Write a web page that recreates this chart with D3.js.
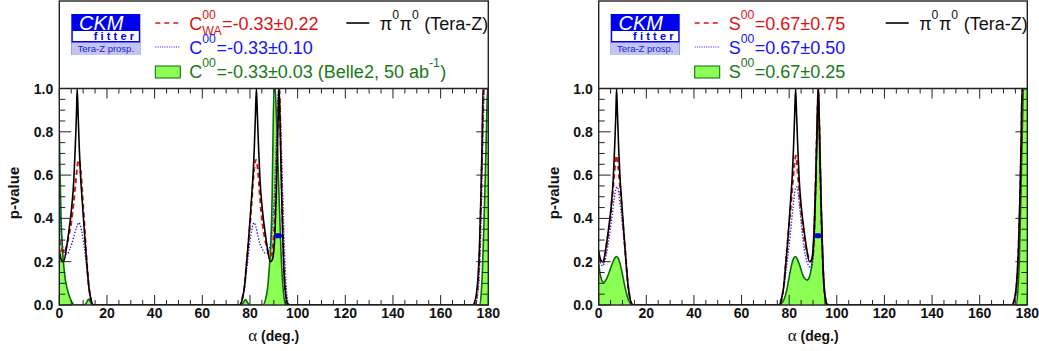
<!DOCTYPE html>
<html>
<head>
<meta charset="utf-8">
<script src="https://cdn.jsdelivr.net/npm/d3@7"></script>
<style>
  body { margin: 0; background: #fff; }
  svg { display: block; }
  text { font-family: "Liberation Sans", Arial, Helvetica, sans-serif; white-space: pre; }
</style>
</head>
<body>
<svg id="chart" width="1039" height="351"></svg>
<script>
// ---- axis ticks ----
const alphaTicks = [0, 20, 40, 60, 80, 100, 120, 140, 160, 180];
const pTicks = [0, 0.2, 0.4, 0.6, 0.8, 1.0];

// ---- p-value scans, [alpha (deg), p-value] ----
// pi0 pi0 at Tera-Z (same in both panels)
const piPiTeraZ = [[0,0.25],[0.8,0.21],[1.8,0.2],[3.1,0.27],[4,0.34],[5,0.43],[6.1,0.58],[6.7,0.73],[7.2,0.88],[7.5,1.0],[7.9,0.88],[8.4,0.72],[8.9,0.6],[9.5,0.5],[10.2,0.39],[11,0.27],[11.7,0.17],[12.4,0.085],[13,0.04],[13.6,0.012],[14.4,0],[75.6,0],[76.4,0.012],[77,0.04],[77.7,0.085],[78.4,0.17],[79.2,0.27],[80,0.39],[80.7,0.5],[81.3,0.6],[81.8,0.72],[82.3,0.88],[82.7,1.0],[83.1,0.88],[83.6,0.73],[84.2,0.58],[85.3,0.43],[86.3,0.34],[87.2,0.27],[88.5,0.2],[89.4,0.21],[90,0.25],[90.5,0.33],[91,0.5],[91.5,0.72],[91.9,0.9],[92.2,1.0],[92.6,0.85],[93.1,0.6],[93.6,0.38],[94.1,0.2],[94.6,0.09],[95.2,0.03],[95.8,0.005],[96.5,0],[173.5,0],[174.3,0.015],[175,0.05],[175.7,0.13],[176.3,0.27],[176.9,0.5],[177.4,0.75],[177.8,1.0],[180,1.0]];

// C00 panel
const cWA022 = [[0,0.3],[1,0.26],[2,0.24],[3,0.27],[4,0.32],[5,0.38],[6,0.47],[7,0.58],[7.6,0.645],[8.2,0.67],[8.8,0.64],[9.4,0.56],[10,0.46],[10.6,0.36],[11.2,0.25],[11.8,0.16],[12.4,0.085],[13,0.04],[13.6,0.012],[14.4,0],[75.6,0],[76.4,0.012],[77,0.04],[77.7,0.085],[78.4,0.17],[79.2,0.27],[80,0.37],[80.7,0.47],[81.3,0.57],[81.9,0.645],[82.5,0.67],[83.1,0.645],[83.7,0.57],[84.4,0.47],[85.2,0.38],[86.2,0.31],[87.2,0.26],[88.2,0.225],[89,0.23],[89.7,0.28],[90.3,0.38],[90.9,0.56],[91.5,0.78],[92,0.95],[92.3,1.0],[92.7,0.85],[93.2,0.6],[93.7,0.38],[94.2,0.2],[94.7,0.09],[95.3,0.03],[95.9,0.005],[96.6,0],[174,0],[174.8,0.02],[175.5,0.07],[176.2,0.2],[176.8,0.42],[177.4,0.7],[177.9,0.95],[178.2,1.0],[180,1.0]];
const c010 = [[0,0.48],[0.5,0.38],[1,0.31],[1.7,0.255],[2.5,0.235],[3.3,0.235],[4.3,0.255],[5.3,0.285],[6.3,0.325],[7.3,0.36],[8.2,0.38],[8.9,0.365],[9.6,0.33],[10.3,0.28],[11,0.22],[11.7,0.15],[12.4,0.085],[13,0.04],[13.6,0.012],[14.4,0],[75.6,0],[76.4,0.012],[77,0.04],[77.8,0.09],[78.6,0.16],[79.4,0.24],[80.2,0.31],[81,0.36],[81.7,0.38],[82.5,0.36],[83.4,0.315],[84.3,0.28],[85.3,0.255],[86.3,0.24],[87.3,0.24],[88.1,0.26],[88.8,0.3],[89.5,0.38],[90.2,0.5],[90.8,0.68],[91.4,0.88],[91.9,1.0],[92.5,0.95],[93.2,0.72],[93.8,0.5],[94.3,0.32],[94.8,0.17],[95.3,0.07],[95.8,0.02],[96.5,0],[174.5,0],[175.3,0.03],[176,0.1],[176.7,0.28],[177.3,0.55],[177.9,0.85],[178.4,1.0],[180,1.0]];
const c003Belle2 = [[0,0.8],[0.3,0.62],[0.7,0.42],[1.2,0.28],[1.8,0.19],[2.5,0.12],[3.2,0.08],[4.2,0.04],[5.2,0.016],[6.5,0],[10.5,0],[11.5,0.012],[12.3,0.028],[13.2,0.012],[14.3,0],[76.3,0],[77.3,0.012],[78.1,0.025],[79,0.01],[80,0],[85.5,0],[86.5,0.025],[87.3,0.07],[88.1,0.17],[88.8,0.3],[89.3,0.5],[89.7,0.8],[90.1,1.0],[90.6,1.0],[91,0.9],[91.6,0.72],[92.2,0.5],[93,0.25],[93.8,0.09],[94.6,0.015],[95.3,0],[176.3,0],[177,0.05],[177.6,0.18],[178.2,0.38],[178.8,0.62],[179.3,0.85],[179.7,1.0],[180,1.0]];

// S00 panel
const s075 = [[0,0.22],[0.9,0.2],[1.7,0.19],[2.5,0.22],[3.5,0.29],[4.5,0.37],[5.5,0.47],[6.5,0.6],[7.1,0.67],[7.6,0.69],[8.2,0.64],[8.9,0.55],[9.6,0.46],[10.3,0.36],[11,0.27],[11.7,0.17],[12.4,0.085],[13,0.04],[13.6,0.012],[14.4,0],[75.6,0],[76.4,0.012],[77,0.04],[77.7,0.085],[78.4,0.17],[79.2,0.27],[80,0.37],[80.8,0.47],[81.6,0.58],[82.3,0.66],[82.8,0.69],[83.3,0.65],[84,0.55],[84.7,0.46],[85.5,0.38],[86.4,0.3],[87.3,0.25],[88.3,0.215],[89.2,0.2],[89.8,0.22],[90.4,0.3],[90.9,0.48],[91.4,0.7],[91.9,0.9],[92.2,1.0],[92.6,0.85],[93.1,0.6],[93.6,0.38],[94.1,0.2],[94.6,0.09],[95.2,0.03],[95.8,0.005],[96.5,0],[173.6,0],[174.4,0.015],[175.1,0.05],[175.8,0.13],[176.4,0.27],[177,0.5],[177.5,0.75],[177.9,1.0],[180,1.0]];
const s050 = [[0,0.21],[0.9,0.19],[1.7,0.18],[2.5,0.2],[3.5,0.25],[4.5,0.32],[5.5,0.4],[6.5,0.49],[7.3,0.54],[7.9,0.545],[8.5,0.51],[9.2,0.45],[10,0.37],[10.7,0.29],[11.4,0.2],[12,0.12],[12.5,0.075],[13.1,0.035],[13.7,0.01],[14.5,0],[75.6,0],[76.5,0.012],[77.1,0.04],[77.8,0.085],[78.6,0.15],[79.5,0.23],[80.5,0.33],[81.5,0.44],[82.3,0.52],[83,0.545],[83.7,0.52],[84.5,0.44],[85.4,0.34],[86.3,0.26],[87.3,0.205],[88.3,0.18],[89.2,0.17],[89.9,0.2],[90.5,0.3],[91,0.47],[91.5,0.7],[92,0.93],[92.3,1.0],[92.7,0.85],[93.2,0.6],[93.7,0.38],[94.2,0.2],[94.7,0.09],[95.3,0.03],[95.9,0.005],[96.6,0],[173.7,0],[174.5,0.015],[175.2,0.05],[175.9,0.13],[176.5,0.27],[177.1,0.5],[177.6,0.75],[178,1.0],[180,1.0]];
const s025 = [[0,0.19],[0.5,0.15],[1,0.125],[2,0.105],[3,0.115],[4,0.14],[5,0.17],[6,0.2],[7,0.22],[7.6,0.224],[8.3,0.214],[9,0.19],[10,0.14],[11,0.085],[12,0.04],[13,0.012],[14,0.002],[14.6,0],[75.8,0],[77,0.01],[78,0.03],[79,0.07],[80,0.13],[81,0.185],[82,0.218],[82.7,0.224],[83.5,0.21],[84.5,0.18],[85.5,0.145],[86.5,0.122],[87.5,0.115],[88.5,0.13],[89.3,0.17],[90,0.25],[90.6,0.4],[91.2,0.6],[91.7,0.82],[92.1,0.97],[92.3,1.0],[92.7,0.82],[93.2,0.58],[93.7,0.36],[94.2,0.19],[94.7,0.08],[95.2,0.025],[95.8,0.004],[96.4,0],[175.3,0],[176,0.06],[176.7,0.22],[177.4,0.55],[178,0.85],[178.4,1.0],[180,1.0]];

// alpha measurement marker: [alpha low, alpha high, p]
const alphaPointC = [90.3, 93.5, 0.32];
const alphaPointS = [90.6, 93.5, 0.32];

// ---- styles ----
const RED = "#d81414", BLUE = "#1414ff", GREEN_TXT = "#167a16";
const GREEN_FILL = "#8cff55", GREEN_LINE = "#0b6b0b";

const svg = d3.select("#chart");
const FRAME_TOP = 1, PLOT_TOP = 88.5, PLOT_BOTTOM = 305;

function richText(g, x, y, parts, color, size) {
  let cx = x;
  const small = size * 0.68;
  parts.forEach(p => {
    if (p.t !== undefined) {
      const t = g.append("text").attr("x", cx).attr("y", y)
        .attr("font-size", size).attr("fill", color).text(p.t);
      cx += t.node().getComputedTextLength();
    } else {
      let w = 0;
      if (p.sup) {
        const t = g.append("text").attr("x", cx).attr("y", y - size * 0.6)
          .attr("font-size", small).attr("fill", color).text(p.sup);
        w = Math.max(w, t.node().getComputedTextLength());
      }
      if (p.sub) {
        const t = g.append("text").attr("x", cx).attr("y", y + size * 0.28)
          .attr("font-size", small).attr("fill", color).text(p.sub);
        w = Math.max(w, t.node().getComputedTextLength());
      }
      cx += w + 0.5;
    }
  });
  return cx;
}

function drawPanel(cfg) {
  const x = d3.scaleLinear().domain([0, 180]).range([cfg.left, cfg.right]);
  const y = d3.scaleLinear().domain([0, 1]).range([PLOT_BOTTOM, PLOT_TOP]);
  const g = svg.append("g");

  const clipId = "clip-" + cfg.id;
  svg.append("clipPath").attr("id", clipId).append("rect")
    .attr("x", cfg.left).attr("y", PLOT_TOP)
    .attr("width", cfg.right - cfg.left).attr("height", PLOT_BOTTOM - PLOT_TOP);

  const plot = g.append("g").attr("clip-path", `url(#${clipId})`);
  const line = d3.line().x(d => x(d[0])).y(d => y(d[1])).curve(d3.curveMonotoneX);
  const area = d3.area().x(d => x(d[0])).y0(y(0)).y1(d => y(d[1])).curve(d3.curveMonotoneX);

  // prospective measurement band
  plot.append("path").datum(cfg.green).attr("d", area).attr("fill", GREEN_FILL);
  plot.append("path").datum(cfg.green).attr("d", line)
    .attr("fill", "none").attr("stroke", GREEN_LINE).attr("stroke-width", 1.6);
  // improved precision scan
  plot.append("path").datum(cfg.blue).attr("d", line)
    .attr("fill", "none").attr("stroke", BLUE).attr("stroke-width", 1.3)
    .attr("stroke-dasharray", "1.3,1.7");
  // current world average scan
  plot.append("path").datum(cfg.red).attr("d", line)
    .attr("fill", "none").attr("stroke", RED).attr("stroke-width", 2)
    .attr("stroke-dasharray", "5,3.5");
  // pi0 pi0 Tera-Z
  plot.append("path").datum(piPiTeraZ).attr("d", line)
    .attr("fill", "none").attr("stroke", "#000").attr("stroke-width", 1.6);

  // alpha measurement marker
  const [lo, hi, pv] = cfg.point;
  g.append("line").attr("x1", x(lo)).attr("x2", x(hi)).attr("y1", y(pv)).attr("y2", y(pv))
    .attr("stroke", BLUE).attr("stroke-width", 3.5);
  g.append("rect").attr("x", x((lo + hi) / 2) - 2.5).attr("y", y(pv) - 2.5)
    .attr("width", 5).attr("height", 5).attr("fill", "#0000c8");

  // ticks
  const ax = g.append("g").attr("stroke", "#222").attr("stroke-width", 1);
  d3.range(0, 181, 5).forEach(a => {
    const len = a % 20 === 0 ? 10 : 5;
    ax.append("line").attr("x1", x(a)).attr("x2", x(a)).attr("y1", PLOT_BOTTOM).attr("y2", PLOT_BOTTOM - len);
    ax.append("line").attr("x1", x(a)).attr("x2", x(a)).attr("y1", PLOT_TOP).attr("y2", PLOT_TOP + len);
  });
  d3.range(0, 21).forEach(i => {
    const v = i * 0.05;
    const len = i % 4 === 0 ? 12 : 6;
    ax.append("line").attr("x1", cfg.left).attr("x2", cfg.left + len).attr("y1", y(v)).attr("y2", y(v));
    ax.append("line").attr("x1", cfg.right).attr("x2", cfg.right - len).attr("y1", y(v)).attr("y2", y(v));
  });

  // frames
  g.append("rect").attr("x", cfg.left).attr("y", FRAME_TOP)
    .attr("width", cfg.right - cfg.left).attr("height", PLOT_BOTTOM - FRAME_TOP)
    .attr("fill", "none").attr("stroke", "#222").attr("stroke-width", 1.4);
  g.append("line").attr("x1", cfg.left).attr("x2", cfg.right)
    .attr("y1", PLOT_TOP).attr("y2", PLOT_TOP).attr("stroke", "#222").attr("stroke-width", 1.4);

  // tick labels
  alphaTicks.forEach(a => {
    g.append("text").attr("x", x(a)).attr("y", 318).attr("text-anchor", "middle")
      .attr("font-size", 14).attr("font-weight", "bold").attr("fill", "#111").text(a);
  });
  pTicks.forEach(v => {
    g.append("text").attr("x", cfg.left - 6).attr("y", y(v) + 5).attr("text-anchor", "end")
      .attr("font-size", 14).attr("font-weight", "bold").attr("fill", "#111").text(v.toFixed(1));
  });

  // axis titles
  const xt = g.append("text").attr("x", cfg.left + 189).attr("y", 341).attr("fill", "#111");
  xt.append("tspan").attr("font-size", 17).attr("font-family", "'Liberation Serif', serif").text("α");
  xt.append("tspan").attr("font-size", 14).attr("font-weight", "bold").text(" (deg.)");
  g.append("text").attr("transform", `translate(${cfg.left - 40},193) rotate(-90)`)
    .attr("text-anchor", "middle").attr("font-size", 15).attr("font-weight", "bold")
    .attr("fill", "#111").text("p-value");

  // ---- legend ----
  const L = cfg.left;
  // CKMfitter logo
  const logo = g.append("g");
  logo.append("rect").attr("x", L + 12).attr("y", 14).attr("width", 69).attr("height", 41).attr("fill", "#0000f0");
  logo.append("rect").attr("x", L + 13.5).attr("y", 31).attr("width", 66).attr("height", 10).attr("fill", "#fff");
  logo.append("rect").attr("x", L + 12).attr("y", 42.5).attr("width", 69).attr("height", 12.5).attr("fill", "#c4c4f2");
  logo.append("text").attr("x", L + 42).attr("y", 29.5).attr("text-anchor", "middle")
    .attr("font-size", 20).attr("font-style", "italic").attr("fill", "#fff").text("CKM");
  logo.append("text").attr("x", L + 78).attr("y", 40).attr("text-anchor", "end")
    .attr("font-size", 11).attr("font-weight", "bold").attr("letter-spacing", "3.2")
    .attr("fill", "#0000f0").text("fitter");
  logo.append("text").attr("x", L + 46.5).attr("y", 51.5).attr("text-anchor", "middle")
    .attr("font-size", 9.5).attr("fill", "#1a1ae6").text("Tera-Z prosp.");

  // legend samples
  g.append("line").attr("x1", L + 96).attr("x2", L + 121).attr("y1", 23).attr("y2", 23)
    .attr("stroke", RED).attr("stroke-width", 1.6).attr("stroke-dasharray", "5,4");
  g.append("line").attr("x1", L + 96).attr("x2", L + 121).attr("y1", 47).attr("y2", 47)
    .attr("stroke", BLUE).attr("stroke-width", 1.2).attr("stroke-dasharray", "1,1.3");
  g.append("rect").attr("x", L + 96).attr("y", 66).attr("width", 25).attr("height", 12)
    .attr("fill", GREEN_FILL).attr("stroke", GREEN_LINE).attr("stroke-width", 1);
  g.append("line").attr("x1", L + 287).attr("x2", L + 310).attr("y1", 23).attr("y2", 23)
    .attr("stroke", "#000").attr("stroke-width", 1.6);

  richText(g, L + 130, 30, cfg.labels[0], RED, 18);
  richText(g, L + 130, 54, cfg.labels[1], BLUE, 18);
  richText(g, L + 130, 78, cfg.labels[2], GREEN_TXT, 18);
  richText(g, L + 320.5, 30, [{t: "π"}, {sup: "0"}, {t: "π"}, {sup: "0"}, {t: "\u00a0(Tera-Z)"}], "#111", 18);
}

drawPanel({
  id: "c00", left: 59.3, right: 488.3,
  red: cWA022, blue: c010, green: c003Belle2, point: alphaPointC,
  labels: [
    [{t: "C"}, {sup: "00", sub: "WA"}, {t: "=-0.33±0.22"}],
    [{t: "C"}, {sup: "00"}, {t: "=-0.33±0.10"}],
    [{t: "C"}, {sup: "00"}, {t: "=-0.33±0.03 (Belle2, 50 ab"}, {sup: "-1"}, {t: ")"}]
  ]
});
drawPanel({
  id: "s00", left: 598.7, right: 1027.3,
  red: s075, blue: s050, green: s025, point: alphaPointS,
  labels: [
    [{t: "S"}, {sup: "00"}, {t: "=0.67±0.75"}],
    [{t: "S"}, {sup: "00"}, {t: "=0.67±0.50"}],
    [{t: "S"}, {sup: "00"}, {t: "=0.67±0.25"}]
  ]
});
</script>
</body>
</html>
